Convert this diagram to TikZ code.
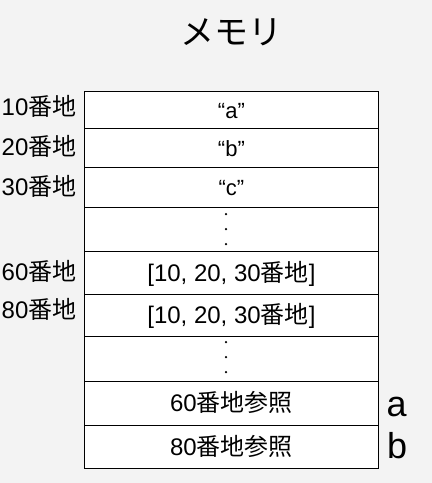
\documentclass[tikz,border=0pt]{standalone}
\usepackage{fontspec}
\setmainfont{Liberation Sans}
\newfontfamily\cjk{Noto Sans CJK JP}
\newcommand{\kj}[1]{{\cjk #1}}
\definecolor{bg}{HTML}{F3F3F3}
\begin{document}
\begin{tikzpicture}[x=1pt,y=-1pt,
  cell/.style={draw=black, line width=0.8pt, fill=white, minimum width=294pt, inner sep=0pt, anchor=north west, text height=18pt, text depth=0pt, font=\fontsize{24}{24}\selectfont},
  qcell/.style={cell, font=\fontsize{22}{22}\selectfont},
  addr/.style={anchor=base west, inner sep=0pt, font=\fontsize{24}{24}\selectfont},
  var/.style={anchor=base west, inner sep=0pt, font=\fontsize{36}{36}\selectfont},
  vdot/.style={circle, fill=black, inner sep=0pt, minimum size=2.5pt}]
\fill[bg] (0,0) rectangle (432,483);
\useasboundingbox (0,0) rectangle (432,483);
\node[font=\cjk\fontsize{34}{34}\selectfont] (title) at (231,32) {メモリ};
\node[qcell, minimum height=37pt] (r1) at (84,90.5) {“a”};
\node[qcell, minimum height=39pt] (r2) at (84,127.5) {“b”};
\node[qcell, minimum height=40pt] (r3) at (84,166.5) {“c”};
\node[cell, minimum height=44pt] (r4) at (84,206.5) {};
\node[cell, minimum height=43pt] (r5) at (84,250.5) {[10, 20, 30\kj{番地}]};
\node[cell, minimum height=42pt] (r6) at (84,293.5) {[10, 20, 30\kj{番地}]};
\node[cell, minimum height=45pt] (r7) at (84,335.5) {};
\node[cell, minimum height=44pt] (r8) at (84,380.5) {60\kj{番地参照}};
\node[cell, minimum height=43pt] (r9) at (84,424.5) {80\kj{番地参照}};
\node[vdot] (d1) at (226,214) {};
\node[vdot] (d2) at (226,229) {};
\node[vdot] (d3) at (226,244) {};
\node[vdot] (d4) at (226,342) {};
\node[vdot] (d5) at (226,357) {};
\node[vdot] (d6) at (226,372) {};
\node[addr] (l1) at (1.5,115) {10\kj{番地}};
\node[addr] (l2) at (1.5,155) {20\kj{番地}};
\node[addr] (l3) at (1.5,195) {30\kj{番地}};
\node[addr] (l4) at (1.5,280) {60\kj{番地}};
\node[addr] (l5) at (1.5,318) {80\kj{番地}};
\node[var] (va) at (386.5,416.5) {a};
\node[var] (vb) at (387,458) {b};
\end{tikzpicture}
\end{document}
